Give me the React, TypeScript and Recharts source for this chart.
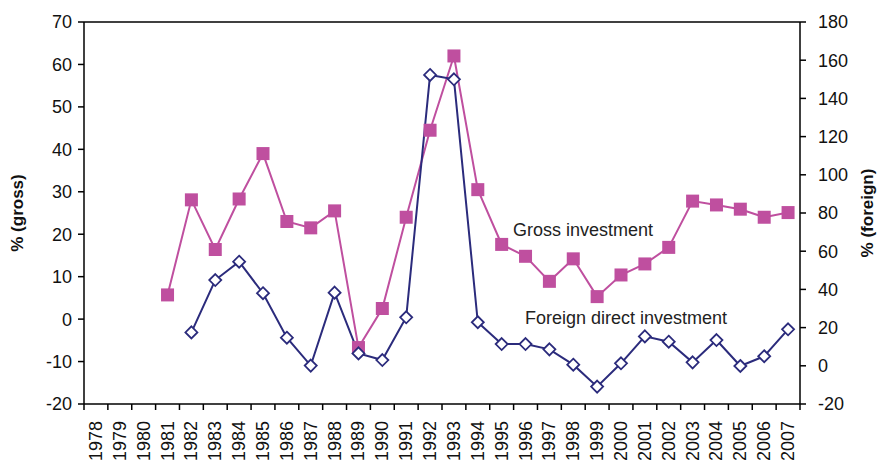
import {
  ComposedChart,
  Line,
  XAxis,
  YAxis,
  ReferenceLine,
} from 'recharts';

const years = [
  '1978', '1979', '1980', '1981', '1982', '1983', '1984', '1985', '1986', '1987',
  '1988', '1989', '1990', '1991', '1992', '1993', '1994', '1995', '1996', '1997',
  '1998', '1999', '2000', '2001', '2002', '2003', '2004', '2005', '2006', '2007',
];

// % (gross), left axis
const grossInvestment = [
  null, null, null, 5.7, 28.1, 16.4, 28.3, 39.0, 23.0, 21.5,
  25.5, -6.7, 2.5, 24.0, 44.5, 62.0, 30.5, 17.6, 14.8, 8.9,
  14.2, 5.3, 10.4, 13.0, 16.9, 27.8, 26.9, 25.9, 24.0, 25.1,
];

// % (foreign), right axis
const foreignInvestment = [
  null, null, null, null, 17.5, 44.9, 54.5, 38.0, 14.7, 0.1,
  38.3, 6.5, 3.0, 25.4, 152.3, 150.0, 22.8, 11.4, 11.4, 8.6,
  0.6, -10.9, 1.3, 15.4, 12.6, 1.8, 13.5, -0.1, 5.0, 19.1,
];

const leftTicks = [-20, -10, 0, 10, 20, 30, 40, 50, 60, 70];
const rightTicks = [-20, 0, 20, 40, 60, 80, 100, 120, 140, 160, 180];
const xTicks = Array.from({ length: years.length + 1 }, (_, i) => i);

const pink = '#bf4f9f';
const navy = '#2b2b7c';
const font = '"Liberation Sans", Arial, sans-serif';

const chartWidth = 877;
const chartHeight = 466;
const leftAxisWidth = 84;
const rightAxisWidth = 77;
const plotWidth = chartWidth - leftAxisWidth - rightAxisWidth;
const halfStep = plotWidth / years.length / 2;

const data = years.map((year, i) => ({
  x: i + 0.5,
  year,
  gross: grossInvestment[i],
  foreign: foreignInvestment[i],
}));

function YearTick(props: any) {
  const { x, y, payload } = props;
  const label = years[payload.value];
  if (!label) return null;
  const lx = x + halfStep;
  const ly = y + 9;
  return (
    <text
      x={lx}
      y={ly}
      transform={`rotate(-90, ${lx}, ${ly})`}
      textAnchor="end"
      dominantBaseline="central"
      fontSize={18}
      fontFamily={font}
      fill="#111"
    >
      {label}
    </text>
  );
}

function SquareDot(props: any) {
  const { cx, cy, index } = props;
  if (cx == null || cy == null || grossInvestment[index] == null) return null;
  return <rect key={`sq-${index}`} x={cx - 6.5} y={cy - 6.5} width={13} height={13} fill={pink} />;
}

function DiamondDot(props: any) {
  const { cx, cy, index } = props;
  if (cx == null || cy == null || foreignInvestment[index] == null) return null;
  return (
    <path
      key={`dm-${index}`}
      d={`M${cx},${cy - 6} L${cx + 6},${cy} L${cx},${cy + 6} L${cx - 6},${cy} Z`}
      fill="#fff"
      stroke={navy}
      strokeWidth={1.8}
    />
  );
}

export default function App() {
  return (
    <div style={{ position: 'absolute', left: 0, top: 0, width: chartWidth, height: chartHeight, background: '#fff' }}>
      <ComposedChart
        width={chartWidth}
        height={chartHeight}
        data={data}
        margin={{ top: 22, right: 0, bottom: 0, left: 0 }}
      >
        <XAxis
          dataKey="x"
          type="number"
          domain={[0, years.length]}
          ticks={xTicks}
          interval={0}
          height={62}
          stroke="#000"
          strokeWidth={1.5}
          tickSize={6}
          tick={<YearTick />}
        />
        <YAxis
          yAxisId="left"
          domain={[-20, 70]}
          ticks={leftTicks}
          interval={0}
          width={leftAxisWidth}
          stroke="#000"
          strokeWidth={1.5}
          tickSize={6}
          tickMargin={6}
          tick={{ fill: '#111', fontSize: 18, fontFamily: font }}
          label={{
            value: '% (gross)',
            angle: -90,
            position: 'insideLeft',
            offset: 17,
            style: { textAnchor: 'middle', fill: '#111', fontSize: 17, fontWeight: 'bold', fontFamily: font },
          }}
        />
        <YAxis
          yAxisId="right"
          orientation="right"
          domain={[-20, 180]}
          ticks={rightTicks}
          interval={0}
          width={rightAxisWidth}
          stroke="#000"
          strokeWidth={1.5}
          tickSize={6}
          tickMargin={12}
          tick={{ fill: '#111', fontSize: 18, fontFamily: font }}
          label={{
            value: '% (foreign)',
            angle: -90,
            position: 'insideRight',
            offset: 10,
            style: { textAnchor: 'middle', fill: '#111', fontSize: 17, fontWeight: 'bold', fontFamily: font },
          }}
        />
        <ReferenceLine yAxisId="left" y={70} stroke="#000" strokeWidth={1.5} />
        <Line
          yAxisId="left"
          type="linear"
          dataKey="gross"
          stroke={pink}
          strokeWidth={2}
          dot={<SquareDot />}
          activeDot={false}
          isAnimationActive={false}
        />
        <Line
          yAxisId="right"
          type="linear"
          dataKey="foreign"
          stroke={navy}
          strokeWidth={2}
          dot={<DiamondDot />}
          activeDot={false}
          isAnimationActive={false}
        />
      </ComposedChart>
      <div style={{ position: 'absolute', left: 513, top: 220, fontFamily: font, fontSize: 18, color: '#222', whiteSpace: 'nowrap' }}>
        Gross investment
      </div>
      <div style={{ position: 'absolute', left: 525, top: 308, fontFamily: font, fontSize: 18, color: '#222', whiteSpace: 'nowrap' }}>
        Foreign direct investment
      </div>
    </div>
  );
}
